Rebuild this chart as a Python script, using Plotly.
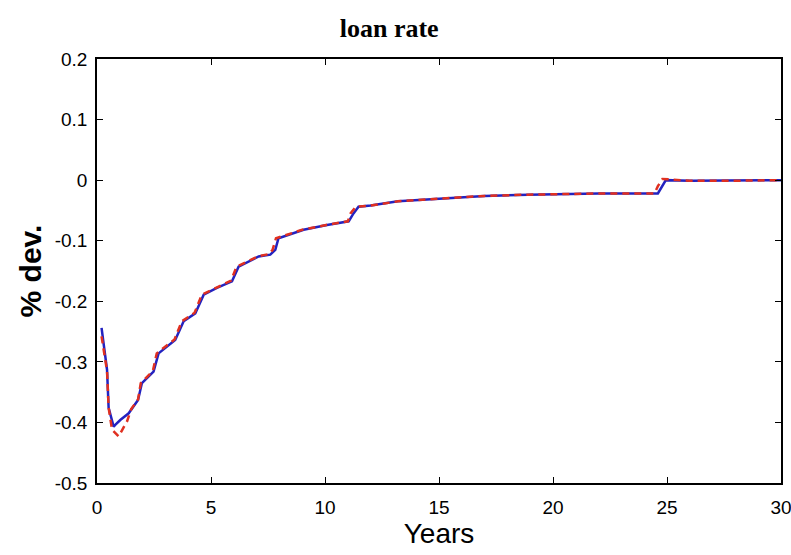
import plotly.graph_objects as go

# Blue (solid) series
x_blue = [0.2, 0.3, 0.44, 0.51, 0.73, 0.8, 1.02, 1.39, 1.8, 1.97, 2.48, 2.7, 3.43, 3.8,
          4.31, 4.68, 5.26, 5.92, 6.21, 7.09, 7.6, 7.82, 7.96, 9.06, 10.09, 11.04, 11.25,
          11.47, 12.0, 13.2, 14.0, 15.4, 16.0, 17.0, 18.9, 20.0, 22.0, 24.6, 24.75, 24.95,
          26.0, 28.0, 30.0]
y_blue = [-0.244, -0.27, -0.313, -0.376, -0.407, -0.404, -0.396, -0.385, -0.363, -0.335,
          -0.316, -0.286, -0.264, -0.233, -0.220, -0.189, -0.178, -0.167, -0.143, -0.126,
          -0.123, -0.115, -0.096, -0.082, -0.074, -0.068, -0.055, -0.044, -0.042, -0.035,
          -0.033, -0.030, -0.028, -0.026, -0.024, -0.023, -0.022, -0.022, -0.012, 0.0,
          -0.001, -0.001, 0.0]

# Red (dashed) series
x_red = [0.2, 0.3, 0.44, 0.51, 0.66, 0.95, 1.32, 1.5, 1.8, 1.92, 2.45, 2.62, 3.4, 3.72,
         4.28, 4.6, 5.22, 5.88, 6.12, 7.05, 7.55, 7.7, 7.85, 9.0, 10.05, 11.0, 11.12,
         11.35, 12.0, 13.2, 14.0, 15.4, 16.0, 17.0, 18.9, 20.0, 22.0, 24.45, 24.6, 24.8,
         26.0, 28.0, 30.0]
y_red = [-0.258, -0.28, -0.315, -0.376, -0.412, -0.423, -0.398, -0.378, -0.362, -0.335,
         -0.315, -0.286, -0.263, -0.233, -0.219, -0.189, -0.178, -0.166, -0.143, -0.126,
         -0.122, -0.115, -0.096, -0.082, -0.074, -0.068, -0.055, -0.044, -0.042, -0.035,
         -0.033, -0.030, -0.028, -0.026, -0.024, -0.023, -0.022, -0.022, -0.010, 0.002,
         -0.001, -0.001, 0.0]

x_ticks = [0, 5, 10, 15, 20, 25, 30]
y_ticks = [-0.5, -0.4, -0.3, -0.2, -0.1, 0, 0.1, 0.2]
y_tick_labels = ["-0.5", "-0.4", "-0.3", "-0.2", "-0.1", "0", "0.1", "0.2"]

sans = "Liberation Sans, Arial, sans-serif"

fig = go.Figure()
fig.add_trace(go.Scatter(x=x_blue, y=y_blue, mode="lines",
                         line=dict(color="#2222c0", width=2.5), showlegend=False))
fig.add_trace(go.Scatter(x=x_red, y=y_red, mode="lines",
                         line=dict(color="#e03020", width=2.5, dash="7px,5px"),
                         showlegend=False))

fig.update_layout(
    width=791, height=555,
    margin=dict(l=97, r=10, t=59, b=72, autoexpand=False),
    paper_bgcolor="white", plot_bgcolor="white",
    title=dict(text="<b>loan rate</b>", x=0.492, xanchor="center", y=0.95, yanchor="middle",
               font=dict(family="Liberation Serif, Times New Roman, serif", size=26, color="black")),
    xaxis=dict(range=[0, 30], tickvals=x_ticks, ticks="inside", ticklen=6, tickcolor="black",
               showline=True, linecolor="black", linewidth=1.5, mirror="ticks",
               showgrid=False, zeroline=False, ticklabelstandoff=6, automargin=False,
               ticklabeloverflow="allow",
               tickfont=dict(family=sans, size=19, color="black"),
               title=dict(text="Years", standoff=4,
                          font=dict(family=sans, size=28, color="black"))),
    yaxis=dict(range=[-0.5, 0.2], tickvals=y_ticks, ticktext=y_tick_labels, ticks="inside",
               ticklen=6, tickcolor="black",
               showline=True, linecolor="black", linewidth=1.5, mirror="ticks",
               showgrid=False, zeroline=False, ticklabelstandoff=4, automargin=False,
               ticklabeloverflow="allow",
               tickfont=dict(family=sans, size=19, color="black"),
               title=dict(text="<b>% dev.</b>", standoff=4,
                          font=dict(family=sans, size=30, color="black"))),
)

fig.write_html("out.html")
